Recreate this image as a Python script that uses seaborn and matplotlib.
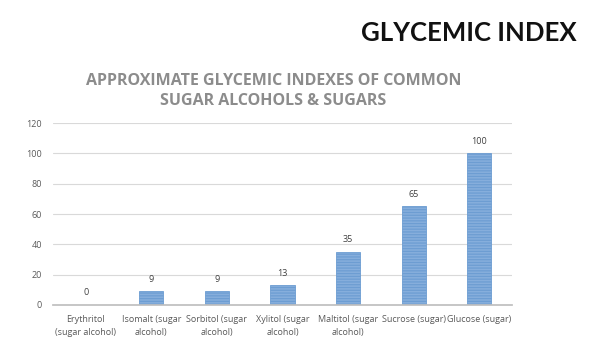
import pandas as pd
import matplotlib.pyplot as plt
import seaborn as sns

# Chart data
categories = ["Erythritol\n(sugar alcohol)", "Isomalt (sugar\nalcohol)", "Sorbitol (sugar\nalcohol)",
              "Xylitol (sugar\nalcohol)", "Maltitol (sugar\nalcohol)", "Sucrose (sugar)", "Glucose (sugar)"]
values = [0, 9, 9, 13, 35, 65, 100]
yticks = [0, 20, 40, 60, 80, 100, 120]

df = pd.DataFrame({"item": categories, "gi": values})

sns.set_theme(style="white")
plt.rcParams['font.family'] = ['Open Sans', 'DejaVu Sans']
plt.rcParams['hatch.color'] = '#c2d8f0'
plt.rcParams['hatch.linewidth'] = 0.9

fig = plt.figure(figsize=(6.01, 3.62), dpi=100)
ax = fig.add_axes([0.088, 0.1575, 0.764, 0.5025])

sns.barplot(data=df, x="item", y="gi", ax=ax, width=0.37, color="#86aedc",
            edgecolor="#6d9dd2", linewidth=0.6, hatch="------", saturation=1)

ax.set_ylim(0, 120)
ax.set_yticks(yticks)
ax.yaxis.grid(True, color="#d9d9d9", linewidth=0.8)
ax.set_axisbelow(True)
for s in ["left", "right", "top"]:
    ax.spines[s].set_visible(False)
ax.spines["bottom"].set_color("#bfbfbf")
ax.set_xlabel("")
ax.set_ylabel("")
ax.tick_params(axis="both", length=0, labelsize=6.5, labelcolor="#595959")
ax.tick_params(axis="y", pad=8)
ax.tick_params(axis="x", pad=7)
for lab in ax.get_xticklabels():
    lab.set_linespacing(1.65)

# value labels
for i, v in enumerate(values):
    ax.text(i, v + 5, str(v), ha="center", va="bottom", fontsize=6.5, color="#404040")

fig.text(0.96, 0.91, "GLYCEMIC INDEX", ha="right", va="center", fontsize=18.5,
         fontweight="bold", family=["Lato", "DejaVu Sans"], color="#111111")
fig.text(0.455, 0.748, "APPROXIMATE GLYCEMIC INDEXES OF COMMON\nSUGAR ALCOHOLS & SUGARS",
         ha="center", va="center", fontsize=11.5, fontweight="bold", color="#8c8c8c",
         linespacing=1.35)

fig.savefig("out.png", dpi=100, facecolor="white")
